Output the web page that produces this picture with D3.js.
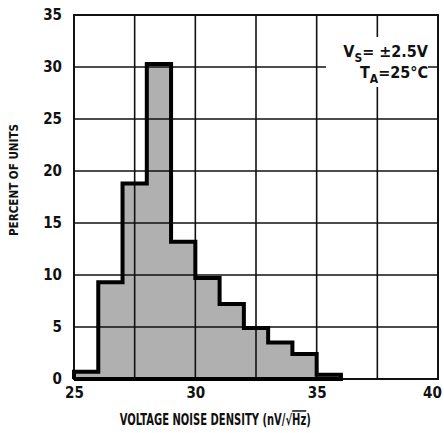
<!DOCTYPE html>
<html>
<head>
<meta charset="utf-8">
<script src="https://cdn.jsdelivr.net/npm/d3@7"></script>
<style>
  body { margin: 0; background: #fff; }
  text { font-family: "DejaVu Sans Condensed", "Liberation Sans", sans-serif; font-weight: bold; fill: #111; }
</style>
</head>
<body>
<div id="chart"></div>
<script>
// histogram bins (nV/rtHz), 1 nV wide, and percent of units
let binStarts = [25, 26, 27, 28, 29, 30, 31, 32, 33, 34, 35];
let percents = [0.7, 9.3, 18.8, 30.3, 13.2, 9.7, 7.2, 4.9, 3.5, 2.4, 0.4];
let binWidth = 1;
let xTicks = [25, 30, 35, 40];
let yTicks = [0, 5, 10, 15, 20, 25, 30, 35];
let xGrid = [27.5, 30, 32.5, 35, 37.5];
let yGrid = [5, 10, 15, 20, 25, 30];
let notes = ["V|S|= \u00b12.5V", "T|A|=25\u00b0C"];

let margin = { top: 15, right: 6, bottom: 54, left: 74 },
    width = 444 - margin.left - margin.right,
    height = 433 - margin.top - margin.bottom;

let svg = d3.select("#chart")
    .append("svg")
    .attr("width", 444)
    .attr("height", 433)
    .append("g")
    .attr("transform", "translate(" + margin.left + "," + margin.top + ")");

let x = d3.scaleLinear().domain([25, 40]).range([0, width]);
let y = d3.scaleLinear().domain([0, 35]).range([height, 0]);

// outline of the histogram as a closed step path
let pts = [[binStarts[0], 0]];
binStarts.forEach(function (b, i) {
    pts.push([b, percents[i]]);
    pts.push([b + binWidth, percents[i]]);
});
pts.push([binStarts[binStarts.length - 1] + binWidth, 0]);

let line = d3.line()
    .x(function (d) { return x(d[0]); })
    .y(function (d) { return y(d[1]); });

svg.append("path")
    .datum(pts)
    .attr("d", line)
    .attr("fill", "#b0b0b0")
    .attr("stroke", "none");

// grid
svg.selectAll(".gx")
    .data(xGrid)
    .enter()
    .append("line")
    .attr("x1", function (d) { return x(d); })
    .attr("x2", function (d) { return x(d); })
    .attr("y1", 0)
    .attr("y2", height)
    .attr("stroke", "#111")
    .attr("stroke-width", 1.6);

svg.selectAll(".gy")
    .data(yGrid)
    .enter()
    .append("line")
    .attr("x1", 0)
    .attr("x2", width)
    .attr("y1", function (d) { return y(d); })
    .attr("y2", function (d) { return y(d); })
    .attr("stroke", "#111")
    .attr("stroke-width", 1.6);

// frame
svg.append("rect")
    .attr("x", 0)
    .attr("y", 0)
    .attr("width", width)
    .attr("height", height)
    .attr("fill", "none")
    .attr("stroke", "#111")
    .attr("stroke-width", 2);

// thick histogram outline
svg.append("path")
    .datum(pts.concat([pts[0]]))
    .attr("d", line)
    .attr("fill", "none")
    .attr("stroke", "#000")
    .attr("stroke-width", 4)
    .attr("stroke-linejoin", "miter");

// axes (labels only)
let xAxis = d3.axisBottom(x).tickValues(xTicks).tickSize(0).tickPadding(8);
let gx = svg.append("g")
    .attr("transform", "translate(0," + height + ")")
    .call(xAxis);
gx.select(".domain").remove();
gx.selectAll("text").attr("font-size", 15).style("font-family", null);
gx.selectAll(".tick").filter(function (d) { return d === 40; })
    .select("text").attr("dx", -6);

let yAxis = d3.axisLeft(y).tickValues(yTicks).tickSize(0).tickPadding(12);
let gy = svg.append("g").call(yAxis);
gy.select(".domain").remove();
gy.selectAll("text").attr("font-size", 15).style("font-family", null);

// conditions box
let box = svg.append("g").attr("transform", "translate(" + (width - 10) + ",30)");
box.append("rect")
    .attr("x", -102)
    .attr("y", -8)
    .attr("width", 102)
    .attr("height", 50)
    .attr("fill", "#fff");
notes.forEach(function (n, i) {
    let parts = n.split("|");
    let t = box.append("text")
        .attr("x", 0)
        .attr("y", 12 + i * 21)
        .attr("text-anchor", "end")
        .attr("font-size", 16);
    t.append("tspan").text(parts[0]);
    t.append("tspan").attr("dy", 5).attr("font-size", 12).text(parts[1]);
    t.append("tspan").attr("dy", -5).text(parts[2]);
});

// axis titles (squeezed horizontally like the narrow original type)
svg.append("text")
    .attr("transform", "rotate(-90)")
    .attr("x", -height / 2 + 17)
    .attr("y", -56)
    .attr("text-anchor", "middle")
    .attr("font-size", 13)
    .attr("textLength", 112)
    .attr("lengthAdjust", "spacingAndGlyphs")
    .text("PERCENT OF UNITS");

let xt = svg.append("text")
    .attr("transform", "translate(" + (x(30) + 20) + "," + (height + 46) + ") scale(0.74,1)")
    .attr("text-anchor", "middle")
    .attr("font-size", 15);
xt.append("tspan").text("VOLTAGE NOISE DENSITY (nV/\u221a");
xt.append("tspan").style("text-decoration", "overline").text("Hz");
xt.append("tspan").text(")");
</script>
</body>
</html>
